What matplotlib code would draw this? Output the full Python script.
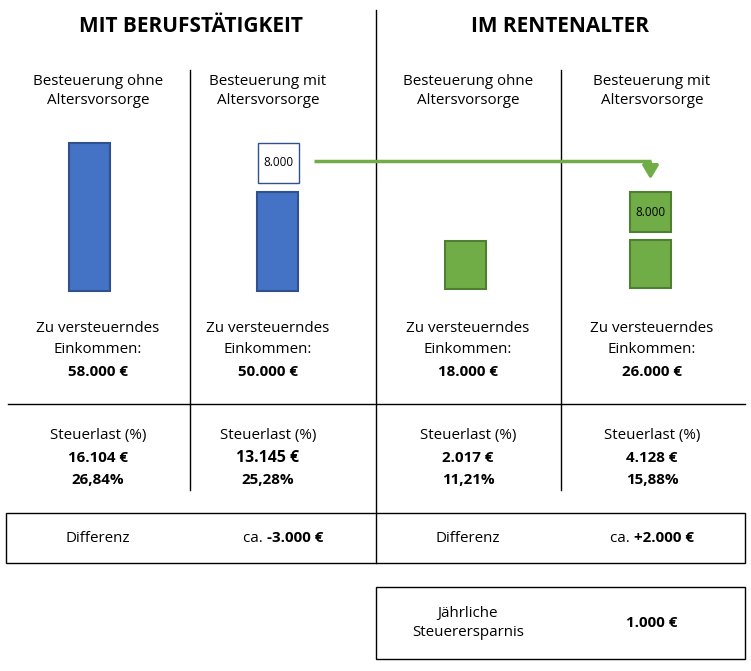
import matplotlib
matplotlib.use("Agg")
import matplotlib.pyplot as plt
from matplotlib.patches import Rectangle, FancyArrowPatch

plt.rcParams['font.family'] = ['Open Sans', 'DejaVu Sans']

# data
sections = ["MIT BERUFSTÄTIGKEIT", "IM RENTENALTER"]
col_titles = ["Besteuerung ohne\nAltersvorsorge", "Besteuerung mit\nAltersvorsorge",
              "Besteuerung ohne\nAltersvorsorge", "Besteuerung mit\nAltersvorsorge"]
einkommen = ["58.000 €", "50.000 €", "18.000 €", "26.000 €"]
steuer = ["16.104 €", "13.145 €", "2.017 €", "4.128 €"]
quote = ["26,84%", "25,28%", "11,21%", "15,88%"]
bar_heights = [148, 99, 48, 48]          # drawn heights of the income bars
vorsorge_label = "8.000"
vorsorge_height = 40
differenz = ["-3.000 €", "+2.000 €"]
ersparnis = "1.000 €"

blue, blue_edge = "#4472C4", "#2F528F"
green, green_edge = "#70AD47", "#507E32"

fig = plt.figure(figsize=(7.51, 6.71), dpi=100)
ax = fig.add_axes([0, 0, 1, 1])
ax.set_xlim(0, 751)
ax.set_ylim(671, 0)
ax.axis("off")

cx = [98, 268, 468, 652]       # text centres
bx = [89.5, 277.5, 465, 650.5]  # bar centres
bar_w = 41
base = [291, 291, 289, 288]
fc = [blue, blue, green, green]
ec = [blue_edge, blue_edge, green_edge, green_edge]
fs = 10.9

# headers
for x, s in zip([191, 560], sections):
    ax.text(x, 27, s, ha="center", va="center", fontsize=15, fontweight="bold")

# lines
ax.plot([376, 376], [10, 563], color="black", lw=1)
for x in [190, 561]:
    ax.plot([x, x], [70, 490], color="black", lw=1)
ax.plot([8, 745], [404, 404], color="black", lw=1)

for i in range(4):
    ax.text(cx[i], 91, col_titles[i], ha="center", va="center", fontsize=fs, linespacing=1.45)
    ax.add_patch(Rectangle((bx[i] - bar_w / 2, base[i] - bar_heights[i]), bar_w, bar_heights[i],
                           facecolor=fc[i], edgecolor=ec[i], lw=1.5))
    ax.text(cx[i], 339, "Zu versteuerndes\nEinkommen:", ha="center", va="center",
            fontsize=fs, linespacing=1.5)
    ax.text(cx[i], 372, einkommen[i], ha="center", va="center", fontsize=fs, fontweight="bold")
    ax.text(cx[i], 436, "Steuerlast (%)", ha="center", va="center", fontsize=fs)
    ax.text(cx[i], 458, steuer[i], ha="center", va="center", fontsize=11.4 if i == 1 else fs,
            fontweight="bold")
    ax.text(cx[i], 480, quote[i], ha="center", va="center", fontsize=fs, fontweight="bold")

# Altersvorsorge boxes
top1 = base[1] - bar_heights[1] - 9
ax.add_patch(Rectangle((bx[1] - bar_w / 2 + 1, top1 - vorsorge_height), bar_w, vorsorge_height,
                       facecolor="white", edgecolor=blue_edge, lw=1))
ax.text(bx[1] + 1, top1 - vorsorge_height / 2, vorsorge_label, ha="center", va="center", fontsize=8.5)
top3 = base[3] - bar_heights[3] - 8
ax.add_patch(Rectangle((bx[3] - bar_w / 2, top3 - vorsorge_height), bar_w, vorsorge_height,
                       facecolor=green, edgecolor=green_edge, lw=1.5))
ax.text(bx[3], top3 - vorsorge_height / 2, vorsorge_label, ha="center", va="center", fontsize=8.5)

# arrow
ax.plot([314, bx[3]], [161, 161], color=green, lw=2.5, solid_capstyle="butt")
ax.add_patch(FancyArrowPatch((bx[3], 160), (bx[3], 182), arrowstyle="-|>,head_length=5,head_width=3",
                             color=green, lw=2.5, mutation_scale=1.6))

# Differenz box
ax.add_patch(Rectangle((6, 513), 739, 50, facecolor="none", edgecolor="black", lw=1))
for j, (xl, xv) in enumerate([(98, 285), (468, 652)]):
    ax.text(xl, 538, "Differenz", ha="center", va="center", fontsize=fs)
    ax.text(xv - 18, 538, "ca. ", ha="right", va="center", fontsize=fs)
    ax.text(xv - 18, 538, differenz[j], ha="left", va="center", fontsize=fs, fontweight="bold")

# Ersparnis box
ax.add_patch(Rectangle((376, 587), 369, 72, facecolor="none", edgecolor="black", lw=1))
ax.text(468, 623, "Jährliche\nSteuerersparnis", ha="center", va="center", fontsize=fs, linespacing=1.45)
ax.text(652, 623, ersparnis, ha="center", va="center", fontsize=fs, fontweight="bold")

fig.savefig("out.png", dpi=100)
